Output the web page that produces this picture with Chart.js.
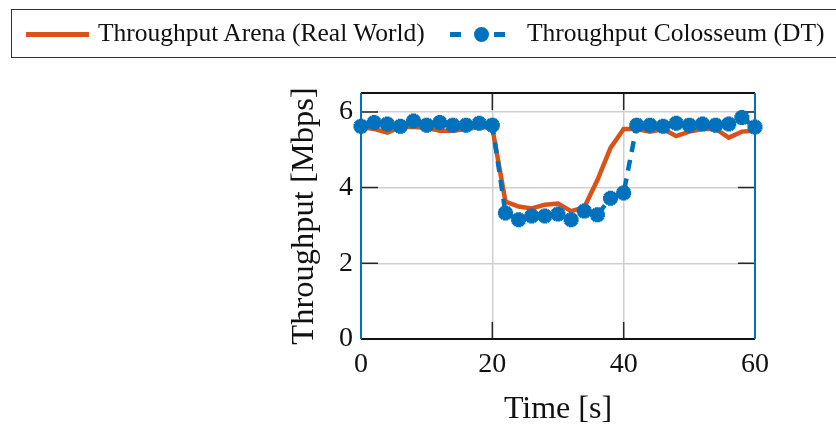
<!DOCTYPE html>
<html lang="en">
<head>
  <meta charset="UTF-8">
  <title>Throughput</title>
  <script src="https://cdn.jsdelivr.net/npm/chart.js"></script>
  <style>
    html, body { margin: 0; padding: 0; background: #fff; }
    body { width: 836px; height: 430px; position: relative; overflow: hidden; font-family: "Liberation Serif", serif; }
    #chart { position: absolute; left: 0; top: 0; }
    .legend {
      position: absolute; left: 11px; top: 9px; width: 900px; height: 49px;
      border: 1.5px solid #333; box-sizing: border-box; color: #111;
      font-size: 25.5px;
    }
    .legend span { position: absolute; top: 8px; white-space: nowrap; }
    .swatch { position: absolute; }
  </style>
</head>
<body>
  <canvas id="chart" width="836" height="430"></canvas>

  <!-- Legend -->
  <div class="legend">
    <div class="swatch" style="left:14px; top:22px; width:63px; height:5px; background:#D95319;"></div>
    <span style="left:86px;">Throughput Arena (Real World)</span>
    <div class="swatch" style="left:438px; top:22px; width:11px; height:5px; background:#0072BD;"></div>
    <div class="swatch" style="left:462px; top:17px; width:15px; height:15px; border-radius:50%; background:#0072BD;"></div>
    <div class="swatch" style="left:482px; top:22px; width:11px; height:5px; background:#0072BD;"></div>
    <span style="left:515px;">Throughput Colosseum (DT)</span>
  </div>

<script>
  // time axis, seconds
  const time = [0, 2, 4, 6, 8, 10, 12, 14, 16, 18, 20, 22, 24, 26, 28, 30,
                32, 34, 36, 38, 40, 42, 44, 46, 48, 50, 52, 54, 56, 58, 60];

  // Mbps
  const arena = [5.60, 5.55, 5.45, 5.60, 5.60, 5.58, 5.50, 5.50, 5.55, 5.60, 5.58,
                 3.63, 3.50, 3.45, 3.55, 3.58, 3.38, 3.48, 4.20, 5.05, 5.55,
                 5.55, 5.48, 5.55, 5.36, 5.48, 5.55, 5.55, 5.32, 5.48, 5.50];
  const colosseum = [5.62, 5.72, 5.68, 5.62, 5.76, 5.65, 5.72, 5.65, 5.65, 5.70, 5.65,
                     3.33, 3.15, 3.25, 3.25, 3.30, 3.15, 3.38, 3.28, 3.72, 3.86,
                     5.65, 5.65, 5.62, 5.70, 5.65, 5.68, 5.65, 5.68, 5.85, 5.60];

  const xTicks = [0, 20, 40, 60];
  const yTicks = [0, 2, 4, 6];

  const BLUE = '#0072BD';
  const ORANGE = '#D95319';
  const serif = '"Liberation Serif", "Times New Roman", serif';

  // frame + inward tick marks, like the matlab axes box
  const boxPlugin = {
    id: 'box',
    beforeDatasetsDraw(chart) {
      const { ctx, chartArea: a, scales } = chart;
      const len = 17;
      ctx.save();
      ctx.strokeStyle = '#262626';
      ctx.lineWidth = 1.5;
      ctx.beginPath();
      yTicks.forEach(v => {
        if (v === 0) return;
        const y = scales.y.getPixelForValue(v);
        ctx.moveTo(a.left, y); ctx.lineTo(a.left + len, y);
        ctx.moveTo(a.right, y); ctx.lineTo(a.right - len, y);
      });
      xTicks.forEach(v => {
        if (v === 0 || v === 60) return;
        const x = scales.x.getPixelForValue(v);
        ctx.moveTo(x, a.top); ctx.lineTo(x, a.top + len);
        ctx.moveTo(x, a.bottom); ctx.lineTo(x, a.bottom - len);
      });
      ctx.stroke();

      ctx.lineWidth = 2;
      ctx.strokeStyle = '#111';
      ctx.beginPath();
      ctx.moveTo(a.left, a.top); ctx.lineTo(a.right, a.top);
      ctx.moveTo(a.left, a.bottom); ctx.lineTo(a.right, a.bottom);
      ctx.stroke();
      ctx.strokeStyle = BLUE;
      ctx.beginPath();
      ctx.moveTo(a.left, a.top); ctx.lineTo(a.left, a.bottom);
      ctx.moveTo(a.right, a.top); ctx.lineTo(a.right, a.bottom);
      ctx.stroke();
      ctx.restore();
    }
  };

  new Chart(document.getElementById('chart'), {
    type: 'line',
    data: {
      labels: time,
      datasets: [
        {
          label: 'Throughput Arena (Real World)',
          data: time.map((t, i) => ({ x: t, y: arena[i] })),
          borderColor: ORANGE,
          borderWidth: 4.5,
          pointRadius: 0,
          tension: 0,
          clip: false,
          order: 2
        },
        {
          label: 'Throughput Colosseum (DT)',
          data: time.map((t, i) => ({ x: t, y: colosseum[i] })),
          borderColor: BLUE,
          backgroundColor: BLUE,
          borderWidth: 4.5,
          borderDash: [11, 8],
          pointStyle: 'star',
          pointRadius: 7.5,
          pointBorderWidth: 5,
          pointBorderColor: BLUE,
          tension: 0,
          clip: false,
          order: 1
        }
      ]
    },
    options: {
      responsive: false,
      animation: false,
      layout: { padding: { left: 285, right: 81, top: 93, bottom: 0 } },
      plugins: { legend: { display: false }, tooltip: { enabled: false } },
      scales: {
        x: {
          type: 'linear',
          min: 0, max: 60,
          afterFit: s => { s.height = 91; },
          afterBuildTicks: s => { s.ticks = xTicks.map(v => ({ value: v })); },
          grid: { color: '#cfcfcf', lineWidth: 1.5, drawTicks: false },
          border: { display: false },
          ticks: { color: '#111', padding: 9, font: { family: serif, size: 28 } },
          title: {
            display: true, text: 'Time [s]', color: '#111',
            font: { family: serif, size: 32 }, padding: { top: 0, bottom: 1 }
          }
        },
        y: {
          min: 0, max: 6.5,
          afterFit: s => { s.width = 76; },
          afterBuildTicks: s => { s.ticks = yTicks.map(v => ({ value: v })); },
          grid: { color: '#cfcfcf', lineWidth: 1.5, drawTicks: false },
          border: { display: false },
          ticks: { color: '#111', padding: 8, font: { family: serif, size: 28 } },
          title: {
            display: true, text: 'Throughput [Mbps]', color: '#111',
            font: { family: serif, size: 32.5 }, padding: 0
          }
        }
      }
    },
    plugins: [boxPlugin]
  });
</script>
</body>
</html>
